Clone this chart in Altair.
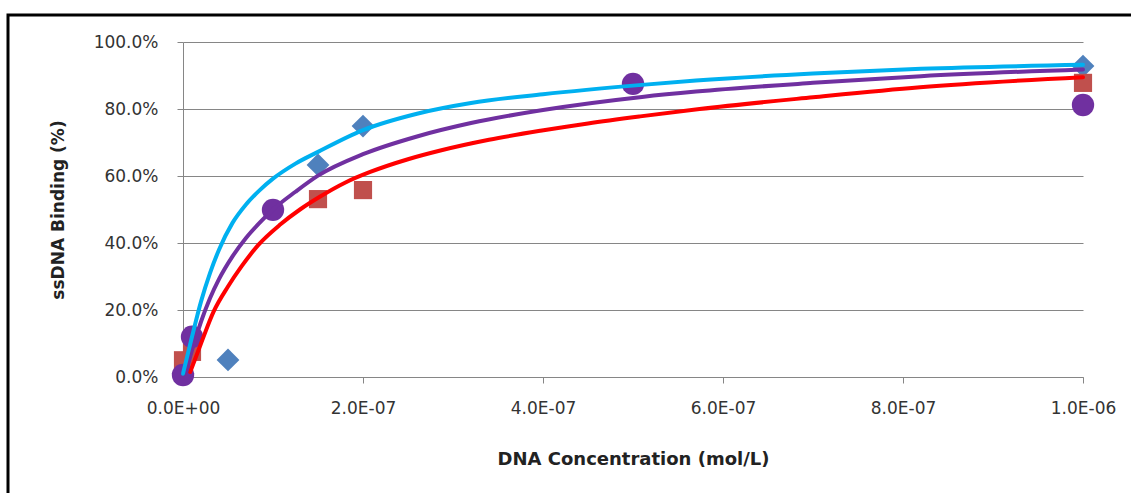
import json
import altair as alt
import pandas as pd

# ---- axis ticks ----
x_ticks = [0, 2e-7, 4e-7, 6e-7, 8e-7, 1e-6]
x_tick_labels = ["0.0E+00", "2.0E-07", "4.0E-07", "6.0E-07", "8.0E-07", "1.0E-06"]
y_ticks = [0.0, 0.2, 0.4, 0.6, 0.8, 1.0]

# ---- data points ----
diamond_x = [0, 5e-8, 1.5e-7, 2e-7, 1e-6]
diamond_y = [0.01, 0.051, 0.633, 0.749, 0.928]
square_x = [0, 1e-8, 1.5e-7, 2e-7, 1e-6]
square_y = [0.05, 0.075, 0.531, 0.558, 0.878]
circle_x = [0, 1e-8, 1e-7, 5e-7, 1e-6]
circle_y = [0.006, 0.12, 0.499, 0.875, 0.812]

# ---- fitted curves ----
cyan_x = [0, 1e-8, 2e-8, 3e-8, 4e-8, 5.5e-8, 7e-8, 8.5e-8, 1e-7, 1.25e-7, 1.5e-7, 2e-7,
          2.6e-7, 3.2e-7, 4e-7, 5.1e-7, 5.7e-7, 7e-7, 8.2e-7, 1e-6]
cyan_y = [0.01, 0.12, 0.225, 0.31, 0.38, 0.46, 0.515, 0.557, 0.592, 0.637, 0.672, 0.737,
          0.786, 0.818, 0.844, 0.872, 0.885, 0.906, 0.920, 0.932]
purple_x = [3e-9, 1e-8, 2e-8, 3e-8, 4e-8, 5.5e-8, 7e-8, 8.5e-8, 1e-7, 1.25e-7, 1.5e-7, 2e-7,
            2.6e-7, 3.2e-7, 4e-7, 5.1e-7, 5.7e-7, 7e-7, 8.2e-7, 1e-6]
purple_y = [0.01, 0.08, 0.165, 0.235, 0.292, 0.36, 0.415, 0.46, 0.50, 0.553, 0.601, 0.665,
            0.718, 0.758, 0.797, 0.836, 0.852, 0.878, 0.898, 0.918]
red_x = [8e-9, 2e-8, 3.4e-8, 5e-8, 6.5e-8, 8.4e-8, 1.08e-7, 1.3e-7, 1.52e-7, 1.8e-7, 2.08e-7,
         2.5e-7, 2.86e-7, 3.4e-7, 3.97e-7, 4.5e-7, 5.08e-7, 5.74e-7, 7e-7, 8.19e-7, 1e-6]
red_y = [0.015, 0.10, 0.195, 0.27, 0.33, 0.395, 0.455, 0.50, 0.538, 0.58, 0.612,
         0.65, 0.676, 0.708, 0.735, 0.757, 0.778, 0.80, 0.835, 0.865, 0.895]

label_expr = json.dumps(x_tick_labels) + "[round(datum.value / 2e-7)]"

def xenc():
    return alt.X(
        "x:Q",
        scale=alt.Scale(domain=[0, 1e-6], nice=False, zero=True),
        axis=alt.Axis(
            values=x_ticks, labelExpr=label_expr, grid=False, labelFlush=False,
            labelOverlap=False,
            title="DNA Concentration (mol/L)", tickSize=6, labelPadding=17,
            titlePadding=34, titleFontSize=18,
        ),
    )

def yenc():
    return alt.Y(
        "y:Q",
        scale=alt.Scale(domain=[0, 1], nice=False),
        axis=alt.Axis(
            values=y_ticks, format=".1%", grid=True, labelFlush=False,
            labelOverlap=False,
            title="ssDNA Binding (%)", tickSize=6, labelPadding=19,
            titlePadding=26, titleFontSize=17,
        ),
    )

def pts(xs, ys):
    return pd.DataFrame({"x": xs, "y": ys})

diamonds = alt.Chart(pts(diamond_x, diamond_y)).mark_point(
    shape="diamond", filled=True, size=520, color="#4F81BD", opacity=1
).encode(x=xenc(), y=yenc())

squares = alt.Chart(pts(square_x, square_y)).mark_point(
    shape="square", filled=True, size=330, color="#C0504D", opacity=1
).encode(x=xenc(), y=yenc())

circles = alt.Chart(pts(circle_x, circle_y)).mark_point(
    shape="circle", filled=True, size=500, color="#7030A0", opacity=1
).encode(x=xenc(), y=yenc())

def curve(xs, ys, color):
    return alt.Chart(pts(xs, ys)).mark_line(
        color=color, strokeWidth=4, interpolate="monotone", strokeCap="round"
    ).encode(x=xenc(), y=yenc())

red_line = curve(red_x, red_y, "#FF0000")
purple_line = curve(purple_x, purple_y, "#7030A0")
cyan_line = curve(cyan_x, cyan_y, "#00B0F0")

frame = alt.Chart(alt.Data(values=[{"a": 1}])).mark_rect(
    filled=False, stroke="black", strokeWidth=3
).encode(
    x=alt.value(-175), x2=alt.value(970), y=alt.value(-27), y2=alt.value(480)
)

chart = alt.layer(
    frame, diamonds, squares, circles, red_line, purple_line, cyan_line
).properties(
    width=900, height=335,
    autosize=alt.AutoSizeParams(type="none"),
    padding={"left": 183, "top": 42, "right": 48, "bottom": 116},
    background="white",
).configure_view(stroke=None).configure_axis(
    domainColor="#868686", tickColor="#868686", gridColor="#868686",
    labelFont="DejaVu Sans", labelFontSize=17, labelColor="#333333",
    titleFont="DejaVu Sans", titleFontWeight="bold", titleColor="#222222",
)

chart.save("out.html", embed_options={"renderer": "svg", "actions": False})
